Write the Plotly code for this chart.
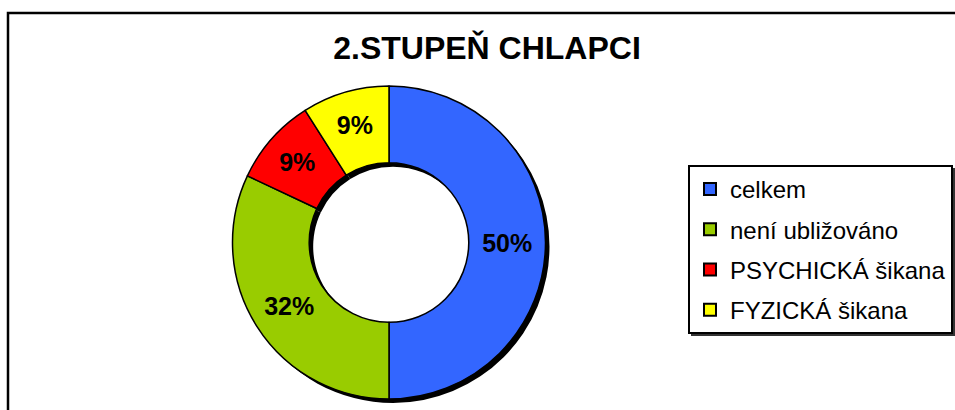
import plotly.graph_objects as go

categories = ["celkem", "není ubližováno", "PSYCHICKÁ šikana", "FYZICKÁ šikana"]
values = [50, 32, 9, 9]
colors = ["#3366FF", "#99CC00", "#FF0000", "#FFFF00"]
title_text = "2.STUPEŇ CHLAPCI"

W, H = 955, 410
def px(x):
    return x / W
def py(y):
    return 1 - y / H

cx, cy, r = 389, 242.5, 156.5
hole = 0.51
sh = 4  # shadow offset

fig = go.Figure()

# shadow of the donut
fig.add_trace(go.Pie(
    values=values, labels=categories, sort=False, direction="clockwise", rotation=0,
    hole=hole, marker=dict(colors=["#000000"] * len(values), line=dict(width=0)),
    textinfo="none", hoverinfo="skip", showlegend=False,
    domain=dict(x=[px(cx - r + sh), px(cx + r + sh)], y=[py(cy + r + sh), py(cy - r + sh)]),
))

fig.add_trace(go.Pie(
    values=values, labels=categories, sort=False, direction="clockwise", rotation=0,
    hole=hole, marker=dict(colors=colors, line=dict(color="black", width=1.5)),
    textinfo="percent", textposition="inside", insidetextorientation="horizontal",
    textfont=dict(family="Liberation Sans, Arial", size=25, color="black", weight="bold"),
    showlegend=False,
    domain=dict(x=[px(cx - r), px(cx + r)], y=[py(cy + r), py(cy - r)]),
))

# legend entries
for i, (c, col) in enumerate(zip(categories, colors)):
    fig.add_trace(go.Scatter(
        x=[None], y=[None], mode="markers", name=c, legendgroup=str(i),
        marker=dict(symbol="square", size=14, color=col, line=dict(color="black", width=1.5)),
    ))

fig.update_layout(
    width=W, height=H,
    margin=dict(l=0, r=0, t=0, b=0),
    paper_bgcolor="white", plot_bgcolor="white",
    xaxis=dict(visible=False), yaxis=dict(visible=False),
    title=dict(text=title_text, x=px(487), y=py(48), xanchor="center", yanchor="middle",
               xref="paper", yref="paper",
               font=dict(family="Liberation Sans, Arial", size=32, color="black", weight="bold")),
    legend=dict(x=px(688), y=py(165), xanchor="left", yanchor="top",
                bordercolor="black", borderwidth=2, bgcolor="white",
                font=dict(family="Liberation Sans, Arial", size=24, color="black"),
                tracegroupgap=6, itemsizing="constant"),
    shapes=[
        dict(type="rect", xref="paper", yref="paper", x0=px(8), x1=1.02, y0=-0.02, y1=py(13),
             line=dict(color="black", width=2.5), fillcolor="rgba(0,0,0,0)", layer="below"),
        dict(type="rect", xref="paper", yref="paper", x0=px(691), x1=1.02, y0=py(336), y1=py(168),
             line=dict(width=0), fillcolor="#333333", layer="below"),
    ],
)

fig.write_html(
    "out.html",
    config={"displayModeBar": False},
    post_script="document.body.style.margin='0';document.body.style.overflow='hidden';",
)
